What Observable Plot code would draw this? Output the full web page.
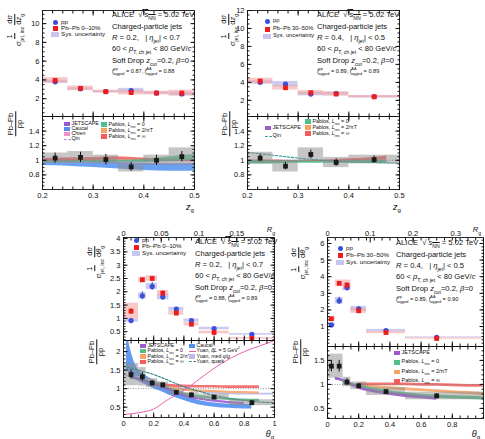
<!DOCTYPE html>
<html><head><meta charset="utf-8">
<script src="https://cdn.jsdelivr.net/npm/d3@7"></script>
<script src="https://cdn.jsdelivr.net/npm/@observablehq/plot@0.6"></script>
<style>
body{margin:0;background:#fff;}
#root{position:relative;width:485px;height:439px;overflow:hidden;font-family:"Liberation Sans",Arial,Helvetica,sans-serif;color:#111;}
.t{position:absolute;white-space:nowrap;line-height:1;}
.ann{position:absolute;font-size:7.6px;white-space:nowrap;}
.ann div{height:11.3px;line-height:11.3px;}
sub,sup{font-size:68%;line-height:0;}
.frac{display:inline-flex;flex-direction:column;align-items:center;vertical-align:middle;margin:0 1px;}
.frac span:first-child{border-bottom:0.8px solid #111;padding:0 1px;}
.yt{position:absolute;transform:translate(-50%,-50%) rotate(-90deg);white-space:nowrap;font-size:7.5px;line-height:1.1;}
.leg{position:absolute;white-space:nowrap;line-height:1;}
</style></head>
<body><div id="root"></div>
<script>
// ---------------- DATA ----------------
// Panel A : R = 0.2, Pb-Pb 0-10%, z_g
const binLoA = [0.2, 0.25, 0.3, 0.35, 0.4, 0.45];
const binHiA = [0.25, 0.3, 0.35, 0.4, 0.45, 0.5];
const xA = [0.225, 0.275, 0.325, 0.375, 0.425, 0.475];
const ppA = [3.8, 3.05, 2.75, 2.85, 2.6, 2.5];
const ppStatA = [0.1, 0.1, 0.08, 0.1, 0.08, 0.1];
const ppSysA = [0.15, 0.12, 0.1, 0.25, 0.12, 0.2];
const pbA = [3.95, 3.1, 2.75, 2.65, 2.6, 2.6];
const pbStatA = [0.12, 0.1, 0.08, 0.1, 0.08, 0.1];
const pbSysA = [0.3, 0.25, 0.15, 0.25, 0.2, 0.3];
const ratioA = [1.03, 1.04, 1.01, 0.91, 1.0, 1.05];
const ratioStatA = [0.07, 0.07, 0.07, 0.06, 0.07, 0.07];
const ratioSysA = [0.07, 0.08, 0.06, 0.07, 0.07, 0.12];
const zModelA = [0.2, 0.25, 0.3, 0.35, 0.4, 0.45, 0.5];
const caucalLoA = [0.93, 0.92, 0.9, 0.88, 0.86, 0.85, 0.85];
const caucalHiA = [1.01, 1.0, 0.99, 0.97, 0.96, 0.95, 0.95];
const jetscapeLoA = [0.98, 0.98, 0.99, 0.99, 0.98, 0.98, 0.98];
const jetscapeHiA = [1.01, 1.01, 1.02, 1.02, 1.01, 1.01, 1.01];
const chienLoA = [1.0, 1.0, 1.0, 0.99, 0.99, 0.99, 0.99];
const chienHiA = [1.03, 1.03, 1.02, 1.02, 1.02, 1.02, 1.02];
const pablos0LoA = [0.96, 0.96, 0.97, 0.97, 0.97, 0.98, 1.0];
const pablos0HiA = [0.99, 0.99, 1.0, 1.0, 1.01, 1.05, 1.08];
const pablos2LoA = [0.98, 0.98, 0.99, 0.99, 0.99, 0.99, 0.99];
const pablos2HiA = [1.01, 1.01, 1.02, 1.02, 1.02, 1.02, 1.02];
const pablosInfLoA = [0.99, 0.99, 1.0, 1.01, 1.0, 0.99, 0.98];
const pablosInfHiA = [1.02, 1.03, 1.04, 1.05, 1.03, 1.01, 1.0];
const qinA = [0.98, 0.97, 0.97, 0.96, 0.96, 0.96, 0.96];

// Panel B : R = 0.4, Pb-Pb 30-50%, z_g
const binLoB = [0.2, 0.25, 0.3, 0.35, 0.4];
const binHiB = [0.25, 0.3, 0.35, 0.4, 0.5];
const xB = [0.225, 0.275, 0.325, 0.375, 0.45];
const ppB = [4.0, 3.8, 2.7, 2.75, 2.4];
const ppStatB = [0.12, 0.12, 0.1, 0.1, 0.08];
const ppSysB = [0.2, 0.3, 0.2, 0.15, 0.1];
const pbB = [4.15, 3.4, 2.85, 2.7, 2.4];
const pbStatB = [0.12, 0.12, 0.1, 0.1, 0.08];
const pbSysB = [0.3, 0.25, 0.25, 0.25, 0.15];
const ratioB = [1.03, 0.92, 1.08, 0.97, 1.01];
const ratioStatB = [0.05, 0.05, 0.06, 0.05, 0.05];
const ratioSysB = [0.08, 0.08, 0.09, 0.07, 0.06];
const zModelB = [0.2, 0.25, 0.3, 0.35, 0.4, 0.45, 0.475];
const jetscapeLoB = [0.97, 0.97, 0.98, 0.98, 0.98, 0.98, 0.98];
const jetscapeHiB = [1.0, 1.0, 1.0, 1.0, 1.0, 1.0, 1.0];
const pablos0LoB = [0.95, 0.95, 0.96, 0.96, 0.96, 0.96, 0.96];
const pablos0HiB = [1.0, 0.99, 0.99, 0.98, 0.99, 1.0, 1.0];
const pablos2LoB = [0.97, 0.97, 0.97, 0.97, 0.98, 0.99, 0.99];
const pablos2HiB = [1.0, 1.0, 0.99, 0.99, 1.0, 1.01, 1.02];
const pablosInfLoB = [0.98, 0.98, 0.97, 0.98, 0.99, 1.0, 1.01];
const pablosInfHiB = [1.0, 1.0, 0.99, 1.0, 1.02, 1.04, 1.06];
const zQinB = [0.2, 0.25, 0.3, 0.35, 0.4, 0.45, 0.5];
const qinB = [1.11, 1.07, 1.03, 1.0, 0.98, 0.97, 0.96];

// Panel C : R = 0.2, Pb-Pb 0-10%, theta_g
const binLoC = [0, 0.1, 0.15, 0.225, 0.3, 0.4, 0.5, 0.7];
const binHiC = [0.1, 0.15, 0.225, 0.3, 0.4, 0.5, 0.7, 1.0];
const xC = [0.05, 0.125, 0.19, 0.26, 0.35, 0.45, 0.6, 0.85];
const ppC = [0.92, 1.85, 2.2, 1.8, 1.35, 0.92, 0.62, 0.4];
const ppStatC = [0.08, 0.15, 0.15, 0.08, 0.06, 0.05, 0.04, 0.03];
const ppSysC = [0.06, 0.12, 0.12, 0.1, 0.07, 0.06, 0.05, 0.03];
const pbC = [1.27, 2.45, 2.5, 1.95, 1.2, 0.78, 0.47, 0.25];
const pbStatC = [0.1, 0.08, 0.08, 0.08, 0.06, 0.05, 0.04, 0.03];
const pbSysC = [0.3, 0.1, 0.1, 0.1, 0.08, 0.06, 0.05, 0.03];
const ratioC = [1.38, 1.32, 1.15, 1.1, 0.9, 0.83, 0.77, 0.62];
const ratioStatC = [0.12, 0.12, 0.07, 0.05, 0.05, 0.05, 0.05, 0.05];
const ratioSysC = [0.3, 0.25, 0.12, 0.08, 0.06, 0.06, 0.08, 0.08];
const thCaucalC = [0.02, 0.05, 0.1, 0.15, 0.2, 0.25, 0.3, 0.35, 0.4, 0.5, 0.6, 0.7, 0.8, 0.85];
const caucalLoC = [1.5, 1.35, 1.2, 1.1, 1.0, 0.92, 0.83, 0.75, 0.68, 0.56, 0.5, 0.47, 0.45, 0.45];
const caucalHiC = [2.6, 2.0, 1.5, 1.35, 1.22, 1.1, 1.0, 0.9, 0.82, 0.68, 0.61, 0.58, 0.57, 0.57];
const thJetscapeC = [0.05, 0.1, 0.15, 0.2, 0.25, 0.3, 0.35, 0.4, 0.5, 0.6, 0.7, 0.8];
const jetscapeC = [1.32, 1.25, 1.18, 1.12, 1.05, 0.97, 0.9, 0.82, 0.72, 0.66, 0.62, 0.6];
const thPablosC = [0.05, 0.1, 0.2, 0.3, 0.4, 0.5, 0.6, 0.7, 0.8, 0.9];
const pablos0C = [1.28, 1.25, 1.15, 1.0, 0.86, 0.78, 0.74, 0.71, 0.69, 0.68];
const thPablosLateC = [0.2, 0.3, 0.4, 0.5, 0.6, 0.7, 0.8, 0.9];
const pablos2C = [1.1, 1.02, 0.96, 0.93, 0.92, 0.9, 0.89, 0.88];
const pablosInfC = [1.12, 1.08, 1.06, 1.05, 1.05, 1.04, 1.04, 1.04];
const thYuanC = [0, 0.1, 0.2, 0.3, 0.4, 0.5, 0.6, 0.7, 0.8, 0.9, 1.0];
const yuanQhatC = [0.3, 0.35, 0.45, 0.72, 0.95, 1.25, 1.55, 1.8, 2.0, 2.15, 2.3];
const yuanQuarkC = [1.6, 1.5, 1.38, 1.22, 1.05, 0.93, 0.82, 0.74, 0.68, 0.64, 0.62];
const yuanMedC = [1.35, 1.3, 1.2, 1.08, 0.98, 0.92, 0.88, 0.86, 0.85, 0.85, 0.85];

// Panel D : R = 0.4, Pb-Pb 30-50%, theta_g
const binLoD = [0, 0.05, 0.1, 0.15, 0.25, 0.5];
const binHiD = [0.05, 0.1, 0.15, 0.25, 0.5, 1.0];
const xD = [0.025, 0.075, 0.125, 0.2, 0.375, 0.7];
const ppD = [1.1, 2.55, 3.35, 2.07, 0.76, 0.35];
const ppStatD = [0.06, 0.22, 0.22, 0.1, 0.04, 0.02];
const ppSysD = [0.08, 0.2, 0.2, 0.15, 0.07, 0.03];
const pbD = [1.47, 3.6, 3.5, 1.95, 0.64, 0.28];
const pbStatD = [0.08, 0.12, 0.12, 0.08, 0.04, 0.02];
const pbSysD = [0.12, 0.2, 0.3, 0.15, 0.07, 0.04];
const ratioD = [1.38, 1.38, 1.05, 0.97, 0.85, 0.76];
const ratioStatD = [0.12, 0.12, 0.07, 0.05, 0.04, 0.05];
const ratioSysD = [0.25, 0.25, 0.1, 0.08, 0.08, 0.08];
const thJetscapeD = [0.05, 0.1, 0.15, 0.2, 0.3, 0.4, 0.5, 0.6, 0.7];
const jetscapeD = [1.12, 1.08, 1.0, 0.93, 0.85, 0.8, 0.76, 0.73, 0.7];
const thPablos0D = [0.1, 0.15, 0.2, 0.3, 0.4, 0.5, 0.6, 0.7, 0.8, 0.9, 1.0];
const pablos0D = [1.03, 1.0, 0.96, 0.89, 0.83, 0.79, 0.76, 0.74, 0.73, 0.72, 0.71];
const thPablosLateD = [0.2, 0.3, 0.4, 0.5, 0.6, 0.7, 0.8, 0.9, 1.0];
const pablos2D = [0.98, 0.95, 0.92, 0.9, 0.88, 0.86, 0.84, 0.82, 0.8];
const pablosInfD = [1.0, 1.0, 1.0, 1.0, 0.99, 0.99, 0.98, 0.97, 0.97];

// tick labels
const zgTicks = [0.2, 0.3, 0.4, 0.5];
const thTicksC = [0, 0.2, 0.4, 0.6, 0.8, 1];
const thTicksD = [0, 0.2, 0.4, 0.6, 0.8];
const rgTicksC = [0, 0.05, 0.1, 0.15];
const rgTicksD = [0, 0.1, 0.2, 0.3];
const yTopTicksA = [2, 4, 6, 8, 10];
const yTopTicksB = [2, 4, 6, 8, 10, 12];
const yTopTicksC = [0.5, 1, 1.5, 2, 2.5, 3, 3.5, 4];
const yTopTicksD = [1, 2, 3, 4, 5, 6];
const yRatTicksAB = [0.8, 1, 1.2, 1.4];
const yRatTicksC = [0.5, 1, 1.5, 2];
const yRatTicksD = [0.5, 1, 1.5];

// ---------------- STYLE ----------------
const FONT = '"Liberation Sans", Arial, Helvetica, sans-serif';
const C = {
  pp: "#3b4fd8", pb: "#ee1c1c", ppSys: "#c6c6f0", pbSys: "#f5a3a3",
  jet: "#9a5ad2", cau: "#5190f0", chien: "#f092d2", qinA: "#a48ee2", qinB: "#2f9a9a",
  p0: "#4fbf8a", p2: "#f6a262", pinf: "#f25c5c", yq: "#ee5fb0", ymed: "#b9b9f2", yquark: "#2a8585"
};
const root = document.getElementById("root");
const fmt = d3.format("~g");

function tab(xs, cols) { return xs.map((x, i) => { const o = {x}; for (const k in cols) o[k] = cols[k][i]; return o; }); }

function topMarks(t) {
  return [
    Plot.rect(t, {x1: "lo", x2: "hi", y1: d => d.pp - d.ppSys, y2: d => d.pp + d.ppSys, fill: C.ppSys, fillOpacity: 0.9}),
    Plot.rect(t, {x1: "lo", x2: "hi", y1: d => d.pb - d.pbSys, y2: d => d.pb + d.pbSys, fill: C.pbSys, fillOpacity: 0.6}),
    Plot.ruleX(t, {x: "x", y1: d => d.pp - d.ppStat, y2: d => d.pp + d.ppStat, stroke: C.pp, strokeWidth: 1}),
    Plot.dot(t, {x: "x", y: "pp", r: 2.6, fill: C.pp, stroke: "none"}),
    Plot.ruleX(t, {x: "x", y1: d => d.pb - d.pbStat, y2: d => d.pb + d.pbStat, stroke: C.pb, strokeWidth: 1}),
    Plot.dot(t, {x: "x", y: "pb", r: 2.7, symbol: "square", fill: C.pb, stroke: "none"})
  ];
}
function ratioMarks(t) {
  return [
    Plot.ruleY([1], {stroke: "#777", strokeDasharray: "1,1.5", strokeWidth: 0.8}),
    Plot.rect(t, {x1: "lo", x2: "hi", y1: d => d.r - d.rSys, y2: d => d.r + d.rSys, fill: "#8c8c8c", fillOpacity: 0.5}),
    Plot.ruleX(t, {x: "x", y1: d => d.r - d.rStat, y2: d => d.r + d.rStat, stroke: "#111", strokeWidth: 1}),
    Plot.dot(t, {x: "x", y: "r", r: 2.7, symbol: "square", fill: "#1a1a1a", stroke: "none"})
  ];
}
function bandLH(xs, lo, hi, color, op = 0.85) {
  return Plot.areaY(tab(xs, {lo, hi}), {x: "x", y1: "lo", y2: "hi", fill: color, fillOpacity: op, curve: "monotone-x", clip: true});
}
function bandMid(xs, mid, hw, color, op = 0.85) {
  return Plot.areaY(tab(xs, {m: mid}), {x: "x", y1: d => d.m - hw, y2: d => d.m + hw, fill: color, fillOpacity: op, curve: "monotone-x", clip: true});
}
function curve(xs, ys, color, dash, w = 1.2) {
  return Plot.line(tab(xs, {y: ys}), {x: "x", y: "y", stroke: color, strokeWidth: w, strokeDasharray: dash, curve: "monotone-x", clip: true});
}
function range(a, b, s) { const out = []; for (let v = a; v <= b + 1e-9; v += s) out.push(+v.toFixed(4)); return out; }

function addPlot(cfg) {
  const M = 30;
  const marks = [...cfg.marks, Plot.frame({stroke: "#111", strokeWidth: 0.9})];
  const none = () => "";
  marks.push(Plot.axisX({anchor: "bottom", ticks: cfg.xMajor, tickSize: -4.5, tickPadding: 7.5, tickFormat: cfg.xLabels ? fmt : none, label: null}));
  marks.push(Plot.axisX({anchor: "bottom", ticks: cfg.xMinor, tickSize: -2.5, tickPadding: 0, tickFormat: none, label: null}));
  if (cfg.topTicks) {
    marks.push(Plot.axisX({anchor: "top", ticks: cfg.topTicks.map(v => v / cfg.topR), tickSize: -4.5, tickPadding: 6.5, tickFormat: d => fmt(+(d * cfg.topR).toFixed(3)), label: null}));
    marks.push(Plot.axisX({anchor: "top", ticks: cfg.topMinor, tickSize: -2.5, tickPadding: 0, tickFormat: none, label: null}));
  } else {
    marks.push(Plot.axisX({anchor: "top", ticks: cfg.xMajor, tickSize: -4.5, tickPadding: 0, tickFormat: none, label: null}));
    marks.push(Plot.axisX({anchor: "top", ticks: cfg.xMinor, tickSize: -2.5, tickPadding: 0, tickFormat: none, label: null}));
  }
  marks.push(Plot.axisY({anchor: "left", ticks: cfg.yMajor, tickSize: -4.5, tickPadding: 7.5, tickFormat: fmt, label: null}));
  marks.push(Plot.axisY({anchor: "left", ticks: cfg.yMinor, tickSize: -2.5, tickPadding: 0, tickFormat: none, label: null}));
  marks.push(Plot.axisY({anchor: "right", ticks: cfg.yMajor, tickSize: -4.5, tickPadding: 0, tickFormat: none, label: null}));
  marks.push(Plot.axisY({anchor: "right", ticks: cfg.yMinor, tickSize: -2.5, tickPadding: 0, tickFormat: none, label: null}));
  const svg = Plot.plot({
    width: cfg.fw + 2 * M, height: cfg.fh + 2 * M,
    marginLeft: M, marginRight: M, marginTop: M, marginBottom: M,
    x: {domain: cfg.xd}, y: {domain: cfg.yd},
    style: {background: "transparent", overflow: "visible", fontFamily: FONT, fontSize: "7.5px", color: "#111", maxWidth: "none"},
    marks
  });
  svg.style.position = "absolute";
  svg.style.left = (cfg.fx - M) + "px";
  svg.style.top = (cfg.fy - M) + "px";
  root.append(svg);
}

// ---------- tables ----------
const tA = tab(xA, {lo: binLoA, hi: binHiA, pp: ppA, ppStat: ppStatA, ppSys: ppSysA, pb: pbA, pbStat: pbStatA, pbSys: pbSysA, r: ratioA, rStat: ratioStatA, rSys: ratioSysA});
const tB = tab(xB, {lo: binLoB, hi: binHiB, pp: ppB, ppStat: ppStatB, ppSys: ppSysB, pb: pbB, pbStat: pbStatB, pbSys: pbSysB, r: ratioB, rStat: ratioStatB, rSys: ratioSysB});
const tC = tab(xC, {lo: binLoC, hi: binHiC, pp: ppC, ppStat: ppStatC, ppSys: ppSysC, pb: pbC, pbStat: pbStatC, pbSys: pbSysC, r: ratioC, rStat: ratioStatC, rSys: ratioSysC});
const tD = tab(xD, {lo: binLoD, hi: binHiD, pp: ppD, ppStat: ppStatD, ppSys: ppSysD, pb: pbD, pbStat: pbStatD, pbSys: pbSysD, r: ratioD, rStat: ratioStatD, rSys: ratioSysD});

const zMinor = range(0.2, 0.5, 0.02);
const thMinor = range(0, 1, 0.05);

// Panel A
addPlot({fx: 42, fy: 10, fw: 152, fh: 106, xd: [0.2, 0.5], yd: [0.1, 11.4], xMajor: zgTicks, xMinor: zMinor, yMajor: yTopTicksA, yMinor: range(0.5, 11, 0.5), marks: topMarks(tA)});
addPlot({fx: 42, fy: 116, fw: 152, fh: 73, xd: [0.2, 0.5], yd: [0.6, 1.6], xMajor: zgTicks, xMinor: zMinor, xLabels: true, yMajor: yRatTicksAB, yMinor: range(0.6, 1.6, 0.05), marks: [
  bandLH(zModelA, caucalLoA, caucalHiA, C.cau),
  bandLH(zModelA, jetscapeLoA, jetscapeHiA, C.jet, 0.6),
  bandLH(zModelA, chienLoA, chienHiA, C.chien, 0.6),
  bandLH(zModelA, pablos2LoA, pablos2HiA, C.p2, 0.7),
  bandLH(zModelA, pablosInfLoA, pablosInfHiA, C.pinf, 0.8),
  bandLH(zModelA, pablos0LoA, pablos0HiA, C.p0, 0.8),
  curve(zModelA, qinA, C.qinA, "2,1.5", 1),
  ...ratioMarks(tA)]});
// Panel B
addPlot({fx: 247, fy: 10, fw: 152, fh: 106, xd: [0.2, 0.5], yd: [0.2, 12], xMajor: zgTicks, xMinor: zMinor, yMajor: yTopTicksB, yMinor: range(0.5, 12, 0.5), marks: topMarks(tB)});
addPlot({fx: 247, fy: 116, fw: 152, fh: 73, xd: [0.2, 0.5], yd: [0.6, 1.6], xMajor: zgTicks, xMinor: zMinor, xLabels: true, yMajor: yRatTicksAB, yMinor: range(0.6, 1.6, 0.05), marks: [
  bandLH(zModelB, jetscapeLoB, jetscapeHiB, C.jet, 0.6),
  bandLH(zModelB, pablos2LoB, pablos2HiB, C.p2, 0.8),
  bandLH(zModelB, pablosInfLoB, pablosInfHiB, C.pinf, 0.85),
  bandLH(zModelB, pablos0LoB, pablos0HiB, C.p0, 0.9),
  curve(zQinB, qinB, C.qinB, "2.5,1.5", 1.1),
  ...ratioMarks(tB)]});
// Panel C
addPlot({fx: 123, fy: 237, fw: 151, fh: 103, xd: [0, 1], yd: [0.17, 4.04], xMajor: thTicksC, xMinor: thMinor, topTicks: rgTicksC, topR: 0.2, topMinor: range(0, 1, 0.05), yMajor: yTopTicksC, yMinor: range(0.2, 4, 0.1), marks: topMarks(tC)});
addPlot({fx: 123, fy: 340, fw: 151, fh: 77, xd: [0, 1], yd: [0.22, 2.3], xMajor: thTicksC, xMinor: thMinor, xLabels: true, yMajor: yRatTicksC, yMinor: range(0.3, 2.3, 0.1), marks: [
  bandLH(thCaucalC, caucalLoC, caucalHiC, C.cau, 0.9),
  bandMid(thYuanC, yuanMedC, 0.025, C.ymed, 0.9),
  bandMid(thPablosLateC, pablos2C, 0.03, C.p2, 0.85),
  bandMid(thPablosLateC, pablosInfC, 0.035, C.pinf, 0.85),
  bandMid(thPablosC, pablos0C, 0.03, C.p0, 0.9),
  bandMid(thJetscapeC, jetscapeC, 0.03, C.jet, 0.9),
  curve(thYuanC, yuanQhatC, C.yq, null, 1),
  curve(thYuanC, yuanQuarkC, C.yquark, "2.5,1.5", 1.1),
  ...ratioMarks(tC)]});
// Panel D (top axis: R_g)
addPlot({fx: 327, fy: 237, fw: 156, fh: 109, xd: [0, 1], yd: [-0.2, 6.36], xMajor: thTicksD, xMinor: thMinor, topTicks: rgTicksD, topR: 0.365, topMinor: range(0, 1, 0.05), yMajor: yTopTicksD, yMinor: range(0, 6.2, 0.2), marks: topMarks(tD)});
addPlot({fx: 327, fy: 346, fw: 156, fh: 72, xd: [0, 1], yd: [0.29, 1.79], xMajor: thTicksD, xMinor: thMinor, xLabels: true, yMajor: yRatTicksD, yMinor: range(0.3, 1.7, 0.1), marks: [
  bandMid(thPablosLateD, pablos2D, 0.03, C.p2, 0.85),
  bandMid(thPablosLateD, pablosInfD, 0.03, C.pinf, 0.85),
  bandMid(thPablos0D, pablos0D, 0.035, C.p0, 0.9),
  bandMid(thJetscapeD, jetscapeD, 0.03, C.jet, 0.95),
  ...ratioMarks(tD)]});

// ---------------- TEXT OVERLAYS ----------------
function html(s, style) { const d = document.createElement("div"); d.innerHTML = s; Object.assign(d.style, style); root.append(d); return d; }
const sqrtS = 'ALICE&nbsp;&nbsp;√<span style="text-decoration:overline">&nbsp;<i>s</i><sub>NN</sub></span> = 5.02 TeV';
function ann(x, y, R, eta, fpp, faa) {
  const d = html(`<div>${sqrtS}</div><div>Charged-particle jets</div><div><i>R</i> = ${R},&nbsp;&nbsp; | <i>η</i><sub>jet</sub>| &lt; ${eta}</div><div>60 &lt; <i>p</i><sub>T, ch jet</sub> &lt; 80 GeV/<i>c</i></div><div>Soft Drop <i>z</i><sub>cut</sub>=0.2, <i>β</i>=0</div><div style="font-size:5.6px"><i>f</i><sup>pp</sup><sub style="margin-left:-5px">tagged</sub> = ${fpp}, <i>f</i><sup>AA</sup><sub style="margin-left:-6px">tagged</sub> = ${faa}</div>`, {left: x + "px", top: (y - 5.6) + "px"});
  d.className = "ann";
}
ann(112, 15, "0.2", "0.7", "0.87", "0.88");
ann(317, 15, "0.4", "0.5", "0.89", "0.89");
ann(195, 242, "0.2", "0.7", "0.88", "0.89");
ann(396, 243, "0.4", "0.5", "0.89", "0.90");

function dataLegend(x, y, dy, cent, fs) {
  html("", {position: "absolute", left: (x - 2.5) + "px", top: (y - 2.5) + "px", width: "5px", height: "5px", borderRadius: "50%", background: C.pp});
  html("", {position: "absolute", left: (x - 2.5) + "px", top: (y + dy - 2.5) + "px", width: "5px", height: "5px", background: C.pb});
  html("", {position: "absolute", left: (x - 4) + "px", top: (y + 2 * dy - 2.5) + "px", width: "8px", height: "5px", background: C.ppSys});
  const t = [`pp`, `Pb–Pb ${cent}`, `Sys. uncertainty`];
  t.forEach((s, i) => { const e = html(s, {left: (x + 6) + "px", top: (y + i * dy - fs / 2 - 0.5) + "px", fontSize: fs + "px"}); e.className = "leg"; });
}
dataLegend(55, 22.5, 6.2, "0–10%", 6.2);
dataLegend(267, 21.5, 7.5, "30–50%", 5.8);
dataLegend(136, 240.5, 6.5, "0–10%", 6.2);
dataLegend(340, 248.5, 7, "30–50%", 6.2);

function modelItem(x, y, kind, color, label, fs) {
  if (kind === "box") html("", {position: "absolute", left: (x - 3) + "px", top: (y - 2.2) + "px", width: "6px", height: "4.4px", background: color});
  else if (kind === "line") html("", {position: "absolute", left: (x - 3.5) + "px", top: (y - 0.5) + "px", width: "7px", height: "0", borderTop: `1.1px solid ${color}`});
  else if (kind === "dash") html("", {position: "absolute", left: (x - 3.5) + "px", top: (y - 0.5) + "px", width: "7px", height: "0", borderTop: `1.1px dashed ${color}`});
  const e = html(label, {left: (x + 4.5) + "px", top: (y - fs / 2 - 0.3) + "px", fontSize: fs + "px"}); e.className = "leg";
}
const Lres = v => `Pablos, <i>L</i><sub>res</sub> = ${v}`;
// A
modelItem(67, 124, "box", C.jet, "JETSCAPE", 5.3);
modelItem(67, 129, "box", C.cau, "Caucal", 5.3);
modelItem(67, 134, "box", C.chien, "Chien", 5.3);
modelItem(67, 139, "dash", C.qinA, "Qin", 5.3);
modelItem(104, 124.5, "box", C.p0, Lres("0"), 5.3);
modelItem(104, 130.5, "box", C.p2, Lres("2/πT"), 5.3);
modelItem(104, 136.5, "box", C.pinf, Lres("∞"), 5.3);
// B
modelItem(268, 128, "box", C.jet, "JETSCAPE", 5.5);
modelItem(268, 136.5, "dash", C.qinB, "Qin", 5.5);
modelItem(308, 121.5, "box", C.p0, Lres("0"), 5.3);
modelItem(308, 127.5, "box", C.p2, Lres("2/πT"), 5.3);
modelItem(308, 133.5, "box", C.pinf, Lres("∞"), 5.3);
// C
modelItem(143, 346, "box", C.jet, "JETSCAPE", 5.2);
modelItem(143, 351.3, "box", C.p0, Lres("0"), 5.2);
modelItem(143, 356.6, "box", C.p2, Lres("2/πT"), 5.2);
modelItem(143, 361.9, "box", C.pinf, Lres("∞"), 5.2);
modelItem(192, 346, "box", C.cau, "Caucal", 5.2);
modelItem(192, 351.3, "line", C.yq, "Yuan, <i>q̂L</i> = 5 GeV<sup>2</sup>", 5.2);
modelItem(192, 356.6, "box", C.ymed, "Yuan, med <i>q</i>/<i>g</i>", 5.2);
modelItem(192, 361.9, "dash", C.yquark, "Yuan, quark", 5.2);
// D
modelItem(397, 353, "box", C.jet, "JETSCAPE", 5.5);
modelItem(397, 362.5, "box", C.p0, Lres("0"), 5.5);
modelItem(397, 372, "box", C.p2, Lres("2/πT"), 5.5);
modelItem(397, 381.5, "box", C.pinf, Lres("∞"), 5.5);

// axis titles
function yTitle(x, y, inner, fs = 7.5) { const e = html(inner, {left: x + "px", top: y + "px", fontSize: fs + "px"}); e.className = "yt"; }
const frac = (a, b) => `<span class="frac"><span>${a}</span><span>${b}</span></span>`;
const yTop = v => frac("1", "<i>σ</i><sub>jet, inc</sub>") + frac("d<i>σ</i>", `d${v}<sub>g</sub>`);
const yRat = frac("Pb–Pb", "pp");
yTitle(15, 30, yTop("<i>z</i>"));
yTitle(16, 124, yRat);
yTitle(229, 30, yTop("<i>z</i>"));
yTitle(230, 124, yRat);
yTitle(95, 262, yTop("<i>θ</i>"));
yTitle(97, 352, yRat);
yTitle(299, 263, yTop("<i>θ</i>"));
yTitle(301, 352, yRat);

function xTitle(x, y, s, fs = 9) { const e = html(s, {left: x + "px", top: y + "px", fontSize: fs + "px", transform: "translate(-50%,-50%)"}); e.className = "t"; }
xTitle(190, 207, "<i>z</i><sub>g</sub>");
xTitle(397, 207, "<i>z</i><sub>g</sub>");
xTitle(270, 434, "<i>θ</i><sub>g</sub>");
xTitle(476, 434, "<i>θ</i><sub>g</sub>");
xTitle(271, 229.5, "<i>R</i><sub>g</sub>", 7.5);
xTitle(477, 229.5, "<i>R</i><sub>g</sub>", 7.5);
</script></body></html>
